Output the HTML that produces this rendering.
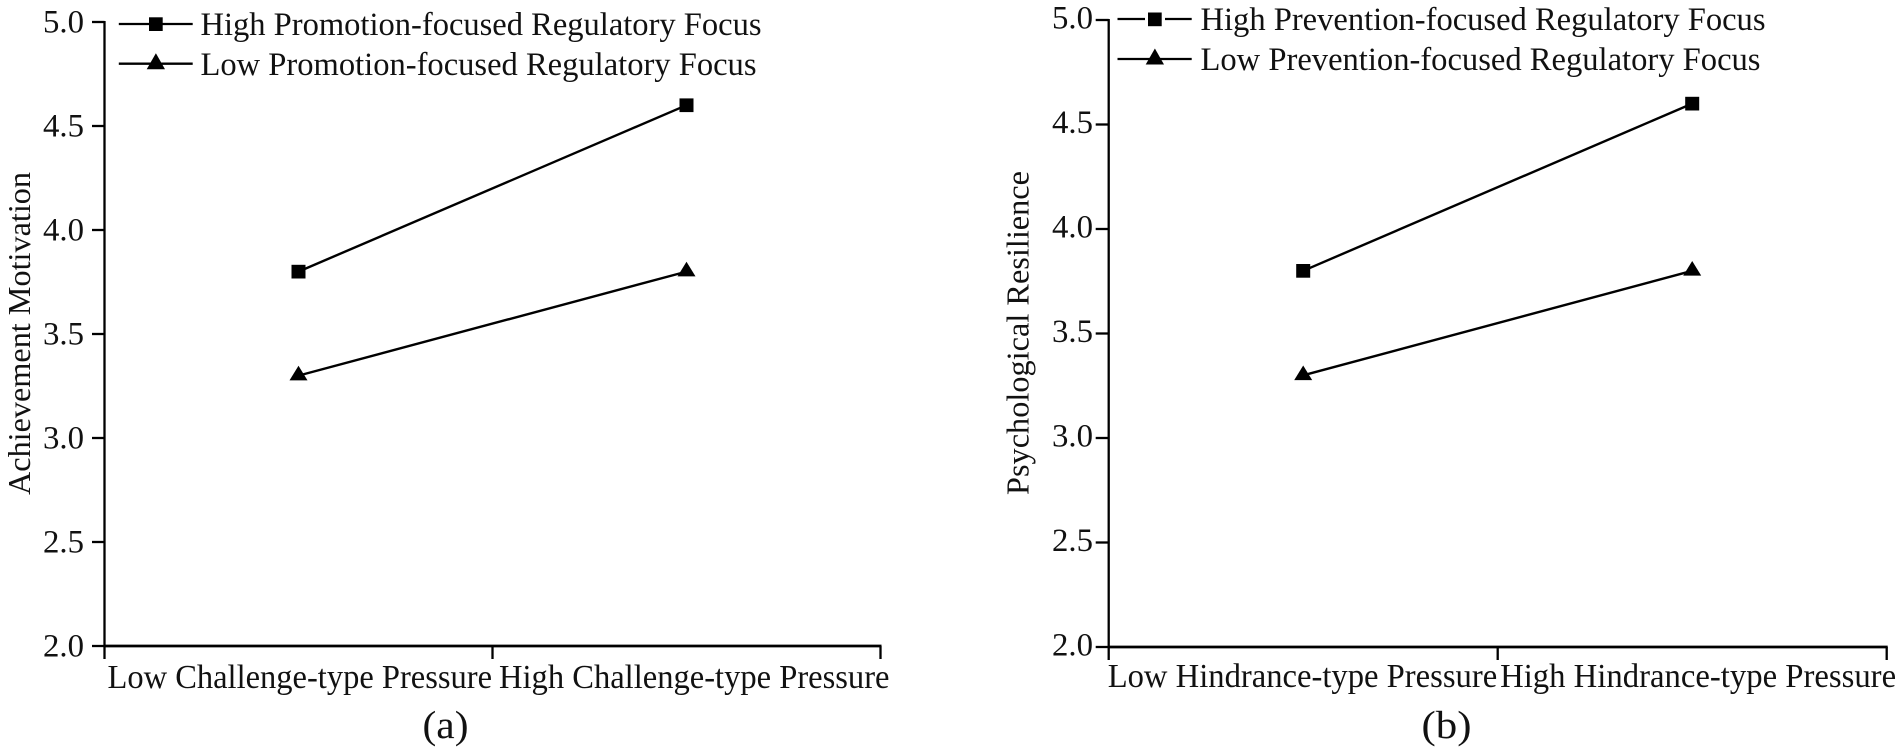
<!DOCTYPE html>
<html lang="en">
<head>
<meta charset="utf-8">
<title>Interaction plots of regulatory focus</title>
<style>
html,body{margin:0;padding:0;background:#fff;width:1902px;height:754px;overflow:hidden}
svg{display:block;font-family:"Liberation Serif",serif;fill:#000}
text{fill:#111}
</style>
</head>
<body>
<svg id="figure" xmlns="http://www.w3.org/2000/svg" width="1902" height="754" viewBox="0 0 1902 754">
  <g id="panel-a">
    <text transform="translate(30,495) rotate(-90)" font-size="32" textLength="323" lengthAdjust="spacingAndGlyphs">Achievement Motivation</text>
    <g>
      <g>
        <line x1="118.8" x2="192.7" y1="24" y2="24" stroke="#000" stroke-width="2.3"/>
        <rect x="149" y="17.3" width="13.7" height="13.7"/>
        <text x="200.5" y="35" font-size="33" textLength="561" lengthAdjust="spacingAndGlyphs">High Promotion-focused Regulatory Focus</text>
      </g>
      <g>
        <line x1="118.8" x2="192.7" y1="63.7" y2="63.7" stroke="#000" stroke-width="2.3"/>
        <polygon points="146.7,69.3 165,69.3 155.9,53.3"/>
        <text x="200.5" y="75" font-size="33" textLength="556" lengthAdjust="spacingAndGlyphs">Low Promotion-focused Regulatory Focus</text>
      </g>
    </g>
    <text x="422.5" y="738" font-size="39" textLength="46" lengthAdjust="spacingAndGlyphs">(a)</text>
  </g>
  <g id="panel-b">
    <text transform="translate(1028.5,495) rotate(-90)" font-size="32" textLength="324" lengthAdjust="spacingAndGlyphs">Psychological Resilience</text>
    <g>
      <g>
        <line x1="1117.5" x2="1191.7" y1="19" y2="19" stroke="#000" stroke-width="2.3"/>
        <rect x="1145" y="11" width="20" height="16" style="fill:#fff"/>
        <rect x="1148" y="12.5" width="13.7" height="13.7"/>
        <text x="1200.5" y="30" font-size="33" textLength="565" lengthAdjust="spacingAndGlyphs">High Prevention-focused Regulatory Focus</text>
      </g>
      <g>
        <line x1="1117.5" x2="1191.7" y1="59" y2="59" stroke="#000" stroke-width="2.3"/>
        <polygon points="1145.7,64.5 1164,64.5 1154.9,48.5"/>
        <text x="1200.5" y="70" font-size="33" textLength="560" lengthAdjust="spacingAndGlyphs">Low Prevention-focused Regulatory Focus</text>
      </g>
    </g>
    <text x="1421.5" y="738" font-size="39" textLength="50" lengthAdjust="spacingAndGlyphs">(b)</text>
  </g>
</svg>
<script>
// Chart data
const yTickLabels = ["2.0", "2.5", "3.0", "3.5", "4.0", "4.5", "5.0"];
const categoriesA = ["Low Challenge-type Pressure", "High Challenge-type Pressure"];
const categoriesB = ["Low Hindrance-type Pressure", "High Hindrance-type Pressure"];
const highPromotionValues = [3.8, 4.6];
const lowPromotionValues = [3.3, 3.8];
const highPreventionValues = [3.8, 4.6];
const lowPreventionValues = [3.3, 3.8];

const SVG_NS = "http://www.w3.org/2000/svg";

function make(tag, parent, attrs) {
  const node = document.createElementNS(SVG_NS, tag);
  Object.keys(attrs).forEach(function (k) { node.setAttribute(k, attrs[k]); });
  parent.appendChild(node);
  return node;
}

function drawPanel(panelId, layout, categories, highValues, lowValues) {
  const panel = document.getElementById(panelId);
  const yMin = Number(yTickLabels[0]);
  const yMax = Number(yTickLabels[yTickLabels.length - 1]);
  const yScale = function (v) {
    return layout.bottom - (v - yMin) / (yMax - yMin) * (layout.bottom - layout.top);
  };
  const bandWidth = (layout.right - layout.left) / categories.length;
  const xScale = function (i) { return layout.left + bandWidth * (i + 0.5); };

  const yAxis = make("line", panel, { x1: layout.left, x2: layout.left, y1: layout.top - 1, y2: layout.bottom, stroke: "#000", "stroke-width": 2.3 });
  
  
  const xAxis = make("line", panel, { x1: layout.left - 1, x2: layout.right + 1, y1: layout.bottom, y2: layout.bottom, stroke: "#000", "stroke-width": 2.8 });
  
  

  yTickLabels.forEach(function (label) {
    const y = yScale(Number(label));
    const tick = make("line", panel, { x1: layout.left - layout.tickLen, x2: layout.left, y1: y, y2: y, stroke: "#000", "stroke-width": 2.3 });
    
    
    const text = make("text", panel, { x: layout.tickLabelX, y: y + layout.tickLabelDy, "font-size": 33, textLength: layout.tickLabelW, lengthAdjust: "spacingAndGlyphs" });
    text.textContent = label;
    
    
  });

  for (let i = 0; i <= categories.length; i++) {
    const x = layout.left + bandWidth * i;
    const tick = make("line", panel, { x1: x, x2: x, y1: layout.bottom, y2: layout.bottom + 13, stroke: "#000", "stroke-width": 2.3 });
    
    
  }

  categories.forEach(function (label, i) {
    const text = make("text", panel, { x: layout.left + bandWidth * i + layout.catDx[i], y: layout.catY, "font-size": 33.5, textLength: layout.catW[i], lengthAdjust: "spacingAndGlyphs" });
    text.textContent = label;
    
    
  });

  const linePoints = function (values) {
    return values.map(function (v, i) { return xScale(i) + "," + yScale(v); }).join(" ");
  };

  const highLine = make("polyline", panel, { points: linePoints(highValues), fill: "none", stroke: "#000", "stroke-width": 2.4 });
  
  
  const lowLine = make("polyline", panel, { points: linePoints(lowValues), fill: "none", stroke: "#000", "stroke-width": 2.4 });
  
  

  highValues.forEach(function (v, i) {
    const x = xScale(i);
    const y = yScale(v);
    const square = make("rect", panel, { x: x - 7, y: y - 6.8, width: 14, height: 13.7 });
    
    
  });

  lowValues.forEach(function (v, i) {
    const x = xScale(i);
    const y = yScale(v);
    const tri = make("polygon", panel, { points: (x - 9) + "," + (y + 4.8) + " " + (x + 9) + "," + (y + 4.8) + " " + x + "," + (y - 9.8) });
    
    
  });
}

drawPanel("panel-a", {
  left: 104.5, right: 880.5, top: 22, bottom: 646,
  tickLen: 12.5, tickLabelX: 43, tickLabelW: 41, tickLabelDy: 10.3,
  catDx: [3, 6.5], catW: [384.5, 390.5], catY: 688
}, categoriesA, highPromotionValues, lowPromotionValues);

drawPanel("panel-b", {
  left: 1108.7, right: 1886.7, top: 20, bottom: 647,
  tickLen: 13, tickLabelX: 1052, tickLabelW: 41, tickLabelDy: 8.7,
  catDx: [-1, 2.4], catW: [389.5, 396], catY: 687
}, categoriesB, highPreventionValues, lowPreventionValues);
</script>
</body>
</html>
